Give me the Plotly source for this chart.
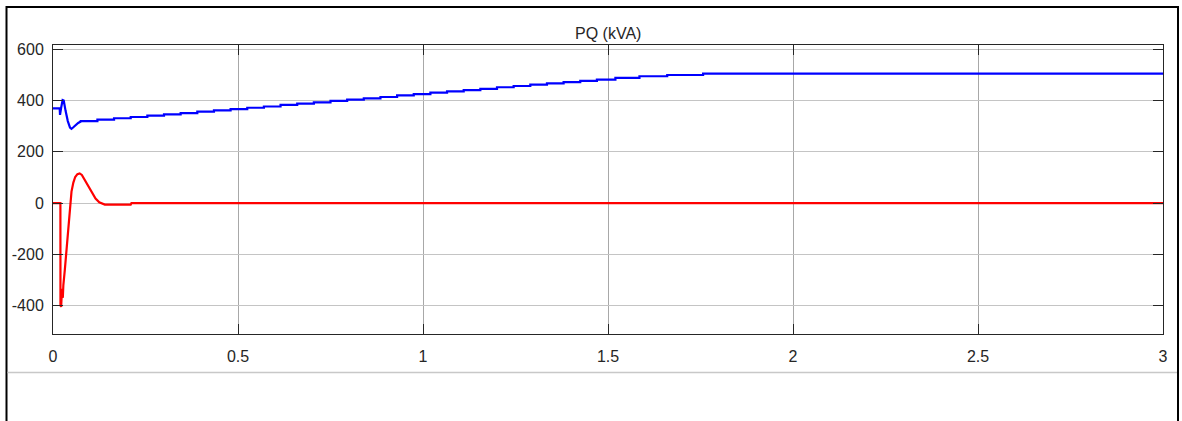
import plotly.graph_objects as go

# ---- data ----
x_ticks = [0, 0.5, 1, 1.5, 2, 2.5, 3]
x_tick_labels = ["0", "0.5", "1", "1.5", "2", "2.5", "3"]
y_ticks = [-400, -200, 0, 200, 400, 600]
y_tick_labels = ["-400", "-200", "0", "200", "400", "600"]

# P (blue): initial transient (linear)
p_trans_t = [0, 0.018, 0.019, 0.0205, 0.022, 0.026, 0.029, 0.034, 0.040, 0.046, 0.050, 0.055, 0.062, 0.068, 0.075]
p_trans_v = [370, 370, 344, 370, 372, 402, 400, 360, 320, 295, 290, 296, 306, 313, 318]
# P (blue): staircase ramp (step start times and levels)
p_step_t = [0.075, 0.12, 0.165, 0.21, 0.255, 0.30, 0.345, 0.39, 0.435, 0.48, 0.525, 0.57,
            0.615, 0.66, 0.705, 0.75, 0.795, 0.84, 0.885, 0.93, 0.975, 1.02, 1.065, 1.11,
            1.155, 1.20, 1.245, 1.29, 1.335, 1.38, 1.425, 1.47, 1.52, 1.585, 1.66, 1.757]
p_step_v = [320, 326, 331, 336, 341, 346, 351, 357, 362, 367, 372, 377,
            383, 388, 393, 399, 404, 409, 414, 420, 425, 431, 436, 441,
            446, 452, 457, 462, 467, 472, 477, 482, 489, 495, 500, 505]
t_end = 3.0

# Q (red)
q_t = [0, 0.020, 0.0202, 0.022, 0.0235, 0.025, 0.0265, 0.028, 0.032, 0.036, 0.040, 0.043,
       0.046, 0.050, 0.055, 0.060, 0.066, 0.072, 0.078, 0.085, 0.095, 0.105, 0.115, 0.125,
       0.135, 0.14, 0.21, 0.212, 3.0]
q_v = [0, 0, -400, -405, -360, -335, -370, -320, -260, -195, -125, -60,
       0, 45, 80, 102, 113, 116, 110, 92, 65, 40, 18, 3,
       -5, -6, -6, 0, 0]

# build the blue trace: transient + horizontal-vertical steps
p_t = list(p_trans_t)
p_v = list(p_trans_v)
for t, v in zip(p_step_t, p_step_v):
    p_t.append(t)
    p_v.append(p_v[-1])
    p_t.append(t)
    p_v.append(v)
p_t.append(t_end)
p_v.append(p_v[-1])

fig = go.Figure()
fig.add_trace(go.Scatter(x=q_t, y=q_v, mode="lines",
                         line=dict(color="#ff0000", width=2.2), showlegend=False))
fig.add_trace(go.Scatter(x=p_t, y=p_v, mode="lines",
                         line=dict(color="#0000ff", width=2.2), showlegend=False))

L, R, T, B = 53, 19, 45, 87
W, H = 1182, 421
pw, ph = W - L - R, H - T - B

def px(x):
    return (x - L) / pw

def py(y):
    return (H - B - y) / ph

fig.update_layout(
    width=W, height=H,
    margin=dict(l=L, r=R, t=T, b=B, pad=0),
    paper_bgcolor="white", plot_bgcolor="white",
    font=dict(family="Liberation Sans, Arial, sans-serif", size=16, color="#262626"),
    showlegend=False,
    xaxis=dict(range=[0, 3], tickvals=x_ticks, ticktext=x_tick_labels,
               showgrid=True, gridcolor="#a8a8a8", gridwidth=1,
               showline=True, linecolor="#262626", linewidth=1, mirror="ticks",
               ticks="inside", ticklen=10, tickcolor="#262626",
               zeroline=False, ticklabelstandoff=8, fixedrange=True),
    yaxis=dict(range=[-511, 617], tickvals=y_ticks, ticktext=y_tick_labels,
               showgrid=True, gridcolor="#c4c4c4", gridwidth=1,
               showline=True, linecolor="#262626", linewidth=1, mirror="ticks",
               ticks="inside", ticklen=10, tickcolor="#262626",
               zeroline=False, ticklabelstandoff=5, fixedrange=True),
    shapes=[
        dict(type="rect", xref="paper", yref="paper",
             x0=px(6.5), x1=px(1178), y0=py(440), y1=py(7),
             line=dict(color="black", width=2), fillcolor="rgba(0,0,0,0)", layer="below"),
        dict(type="line", xref="paper", yref="paper",
             x0=px(7.5), x1=px(1177), y0=py(372.5), y1=py(372.5),
             line=dict(color="#c8c8c8", width=1.5)),
    ],
    annotations=[
        dict(text="PQ (kVA)", xref="paper", yref="paper", x=0.5, y=py(33),
             xanchor="center", yanchor="middle", showarrow=False,
             font=dict(size=16, color="#262626")),
    ],
)

fig.write_html("out.html", config={"displayModeBar": False})
